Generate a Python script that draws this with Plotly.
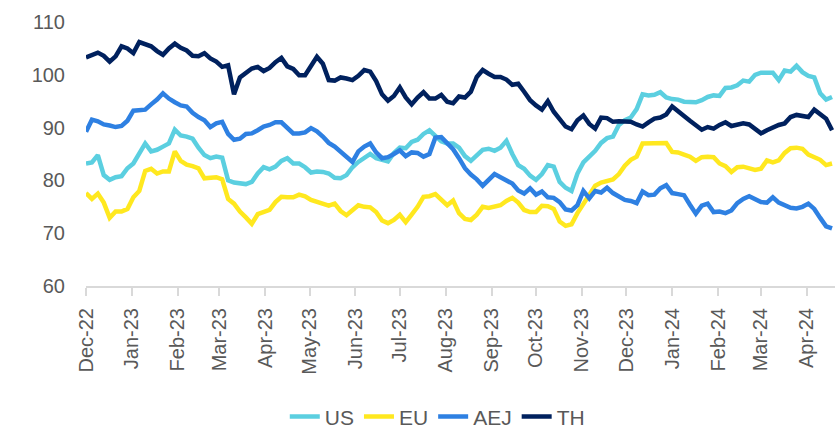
import pandas as pd
import plotly.graph_objects as go

# Sample dates: every 4 calendar days from 1 Dec 2022
dates = pd.date_range("2022-12-01", periods=127, freq="4D")

us = [83.2, 83.4, 84.8, 81.0, 80.1, 80.6, 80.8, 82.3, 83.2, 85.0,
      87.0, 85.5, 85.8, 86.4, 87.0, 89.6, 88.5, 88.3, 87.9, 86.2,
      84.8, 84.2, 84.5, 84.3, 80.0, 79.6, 79.4, 79.3, 79.7, 81.3,
      82.5, 82.1, 82.6, 83.7, 84.2, 83.2, 83.2, 82.5, 81.5, 81.7,
      81.6, 81.3, 80.5, 80.4, 81.0, 82.5, 83.5, 84.2, 85.0, 84.2,
      83.8, 83.6, 85.2, 86.2, 86.1, 87.3, 87.7, 88.8, 89.5, 88.5,
      87.4, 87.0, 87.0, 86.2, 84.6, 83.7, 84.9, 85.8, 86.0, 85.6,
      86.2, 87.5, 85.0, 82.9, 82.2, 80.9, 80.1, 81.2, 82.9, 82.6,
      79.7, 78.6, 78.0, 81.3, 83.4, 84.4, 85.6, 87.1, 88.0, 88.3,
      90.5, 91.4, 91.9, 93.5, 96.3, 96.1, 96.2, 96.7, 95.7, 95.4,
      95.3, 94.9, 94.9, 94.8, 95.2, 95.8, 96.1, 96.0, 97.5, 97.6,
      98.0, 98.9, 98.7, 100.0, 100.4, 100.4, 100.4, 99.0, 100.8, 100.6,
      101.7, 100.5, 99.8, 99.5, 96.5, 95.3, 95.8]

eu = [77.6, 76.5, 77.5, 75.8, 72.9, 74.1, 74.1, 74.6, 76.8, 78.0,
      81.8, 82.2, 81.3, 81.7, 81.7, 85.5, 83.7, 83.0, 82.7, 82.3,
      80.4, 80.6, 80.6, 80.2, 76.5, 75.6, 74.1, 73.0, 71.8, 73.6,
      74.0, 74.4, 75.9, 76.9, 76.8, 76.8, 77.3, 77.0, 76.3, 76.0,
      75.7, 75.2, 75.6, 74.2, 73.4, 74.3, 75.3, 75.0, 74.9, 74.0,
      72.4, 71.9, 72.5, 73.5, 72.1, 73.5, 75.0, 76.9, 77.0, 77.4,
      76.2, 75.3, 76.2, 73.8, 72.7, 72.5, 73.5, 75.0, 74.8, 75.0,
      75.3, 76.1, 76.7, 75.8, 74.4, 74.0, 74.0, 75.2, 75.1, 74.6,
      72.2, 71.4, 71.7, 73.8, 75.6, 77.5, 79.0, 79.6, 79.9, 80.2,
      81.2, 82.8, 83.9, 84.5, 87.0, 87.0, 87.0, 87.1, 87.1, 85.4,
      85.3, 84.9, 84.5, 83.7, 84.4, 84.5, 84.4, 83.2, 82.7, 81.6,
      82.5, 82.6, 82.2, 82.0, 82.2, 83.8, 83.4, 83.8, 85.2, 86.1,
      86.2, 86.0, 84.9, 84.4, 83.9, 82.9, 83.2]

aej = [89.2, 91.5, 91.2, 90.6, 90.4, 90.1, 90.3, 91.3, 93.2, 93.4,
       93.4, 94.4, 95.3, 96.5, 95.5, 94.8, 94.2, 94.0, 92.8, 92.0,
       91.4, 90.1, 90.8, 91.1, 88.8, 87.7, 87.9, 88.8, 88.9, 89.5,
       90.2, 90.5, 91.0, 91.0, 90.0, 88.9, 88.9, 89.1, 89.9, 89.3,
       88.3, 87.1, 86.4, 85.5, 84.6, 83.5, 85.5, 86.4, 87.0, 85.3,
       84.2, 84.4, 85.0, 85.7, 84.6, 85.3, 85.2, 84.5, 85.0, 88.1,
       88.2, 86.9, 85.9, 84.2, 82.3, 81.1, 80.2, 79.0, 80.1, 81.2,
       80.6, 80.1, 79.4, 78.1, 77.5, 78.5, 77.3, 77.9, 76.8, 76.7,
       75.9, 74.5, 74.3, 75.3, 78.0, 76.6, 78.0, 77.7, 78.6, 77.6,
       76.9, 76.3, 76.1, 75.7, 77.9, 77.2, 77.3, 78.5, 79.1, 77.6,
       77.4, 77.2, 75.4, 73.7, 75.2, 75.6, 74.0, 74.1, 73.8, 74.3,
       75.7, 76.5, 77.0, 76.5, 75.9, 75.8, 76.8, 75.8, 75.3, 74.8,
       74.7, 75.0, 75.6, 74.6, 72.9, 71.3, 70.9]

th = [103.3, 103.8, 104.2, 103.6, 102.5, 103.5, 105.4, 105.0, 104.1, 106.2,
      105.9, 105.4, 104.5, 103.8, 105.0, 105.9, 105.1, 104.6, 103.6, 103.5,
      104.1, 103.1, 102.5, 101.5, 101.8, 96.3, 99.5, 100.4, 101.2, 101.5,
      100.7, 101.3, 102.4, 103.2, 101.6, 101.1, 99.9, 99.9, 101.5, 103.4,
      102.1, 99.0, 98.9, 99.5, 99.3, 99.0, 99.8, 100.9, 100.6, 98.8,
      96.3, 95.1, 96.0, 97.6, 95.7, 94.4, 95.7, 96.7, 95.5, 95.5,
      96.2, 94.9, 94.6, 95.9, 95.7, 96.8, 99.6, 100.9, 100.2, 99.6,
      99.6, 99.1, 98.1, 98.3, 96.8, 95.2, 94.2, 93.4, 95.0, 93.0,
      91.6, 90.2, 89.7, 91.4, 92.3, 90.7, 89.8, 91.9, 91.8, 91.1,
      91.2, 91.1, 91.1, 90.6, 90.2, 91.0, 91.7, 91.9, 92.5, 94.0,
      93.0, 92.2, 91.3, 90.5, 89.6, 90.1, 89.8, 90.5, 91.0, 90.3,
      90.5, 90.8, 90.6, 89.8, 88.9, 89.5, 90.1, 90.5, 90.8, 92.0,
      92.4, 92.2, 92.0, 93.4, 92.6, 91.7, 89.5]

series_names = ["US", "EU", "AEJ", "TH"]
series_values = [us, eu, aej, th]
series_colors = ["#5BCFE0", "#FFE81F", "#2E80E2", "#00215E"]

tick_dates = pd.date_range("2022-12-01", "2024-04-01", freq="MS")
tick_labels = ["Dec-22", "Jan-23", "Feb-23", "Mar-23", "Apr-23", "May-23",
               "Jun-23", "Jul-23", "Aug-23", "Sep-23", "Oct-23", "Nov-23",
               "Dec-23", "Jan-24", "Feb-24", "Mar-24", "Apr-24"]
y_ticks = [60, 70, 80, 90, 100, 110]

FONT = "Liberation Sans"
GREY = "#595959"

fig = go.Figure()
for name, vals, col in zip(series_names, series_values, series_colors):
    fig.add_trace(go.Scatter(x=dates, y=vals, name=name, mode="lines",
                             line=dict(color=col, width=4.5)))

fig.update_layout(
    width=838, height=431, autosize=False,
    margin=dict(l=86, r=3, t=22, b=145, autoexpand=False),
    paper_bgcolor="white", plot_bgcolor="white",
    font=dict(family=FONT, color=GREY, size=20),
    showlegend=True,
    legend=dict(orientation="h", x=0.469, xanchor="center", y=-0.496,
                yanchor="middle", font=dict(size=21, color=GREY),
                itemwidth=30, tracegroupgap=0),
    hovermode=False,
)
fig.update_xaxes(
    type="date", range=["2022-12-01", "2024-04-20"], automargin=False,
    tickvals=tick_dates, ticktext=tick_labels, tickangle=-90,
    showgrid=False, zeroline=False,
    showline=True, linecolor="#D9D9D9", linewidth=2,
    ticks="outside", ticklen=8, tickcolor="#D9D9D9", tickwidth=2,
    ticklabelstandoff=4,
    tickfont=dict(size=20, color=GREY),
)
fig.update_yaxes(
    range=[60, 110], tickvals=y_ticks, showgrid=False, zeroline=False,
    showline=False, ticks="", ticklabelstandoff=20, automargin=False,
    tickfont=dict(size=20, color=GREY),
)

fig.write_html(
    "out.html",
    config={"displayModeBar": False},
    post_script="document.body.style.margin='0px';document.body.style.overflow='hidden';",
)
